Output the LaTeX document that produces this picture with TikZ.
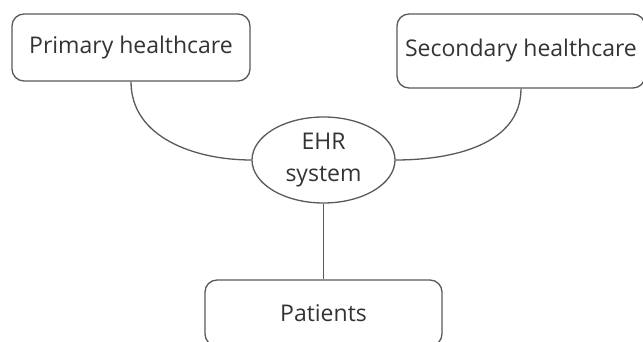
\documentclass[tikz,border=0pt]{standalone}
\usepackage{fontspec}
\setmainfont{Open Sans}
\usetikzlibrary{shapes.geometric}
\definecolor{ChartText}{HTML}{333333}
\definecolor{ChartLine}{HTML}{595959}

\begin{document}
\begin{tikzpicture}[x=1pt,y=1pt,
    font=\fontsize{23}{32}\selectfont,
    careBox/.style={draw=ChartLine,line width=1.3pt,rounded corners=12pt,text=ChartText,inner sep=0pt},
    hubNode/.style={draw=ChartLine,line width=1.3pt,ellipse,text=ChartText,align=center,inner sep=0pt,
      minimum width=143pt,minimum height=86pt},
    link/.style={ChartLine,line width=1.3pt}]
  \useasboundingbox (0,0) rectangle (643,342);
  \clip (0,0) rectangle (643,342);
  \node[careBox,minimum width=238pt,minimum height=67pt] (primary) at (131,294.5) {Primary healthcare};
  \node[careBox,minimum width=248pt,minimum height=74pt] (secondary) at (521,291) {Secondary healthcare};
  \node[hubNode] (ehr) at (323.5,182) {EHR\\system};
  \node[careBox,minimum width=237pt,minimum height=66pt] (patients) at (323.5,29) {Patients};
  \draw[link] (primary.south) to[out=-90,in=180] (ehr.west);
  \draw[link] (secondary.south) to[out=-90,in=0] (ehr.east);
  \draw[link] (ehr.south) -- (patients.north);
\end{tikzpicture}
\end{document}
